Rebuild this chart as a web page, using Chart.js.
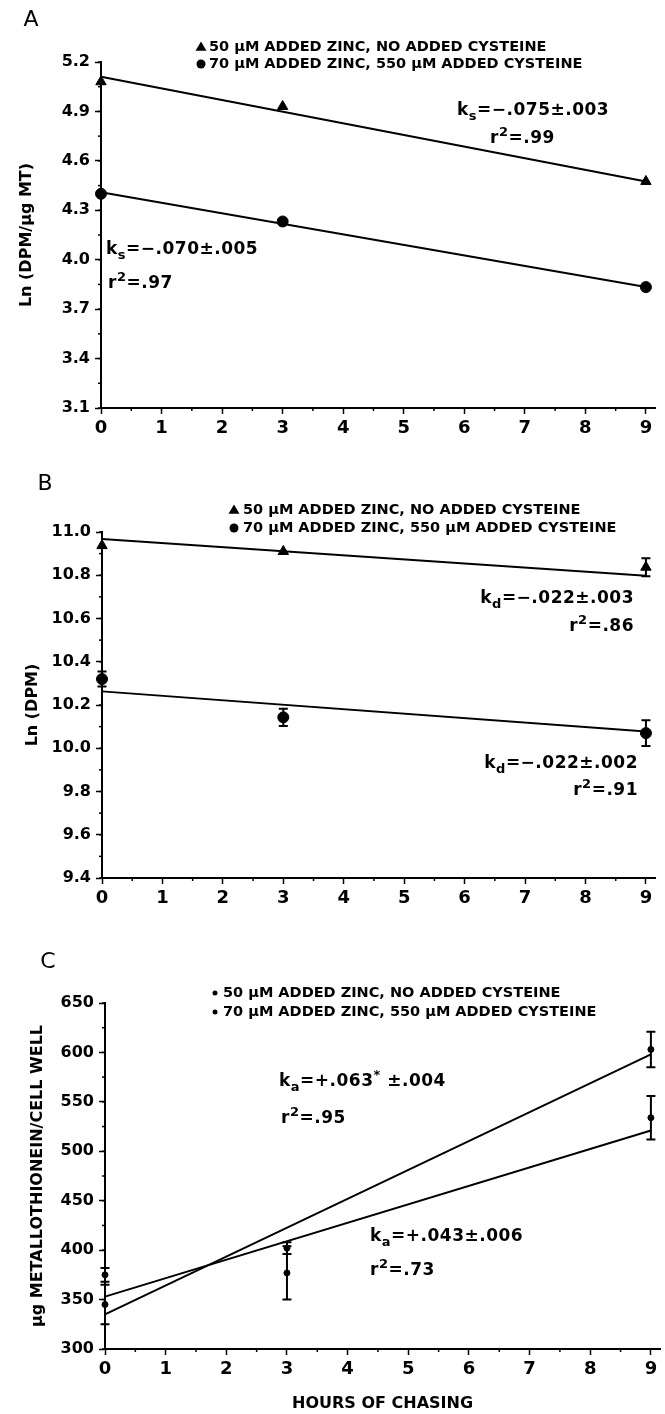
<!DOCTYPE html>
<html><head><meta charset="utf-8">
<script src="https://cdn.jsdelivr.net/npm/chart.js@4"></script>
<style>
html,body{margin:0;padding:0;background:#fff;width:665px;height:1414px;overflow:hidden;}
.p{position:absolute;left:0;}
canvas{display:block;}
</style></head><body>
<div class="p" style="top:0"><canvas id="cA" width="665" height="470"></canvas></div>
<div class="p" style="top:470px"><canvas id="cB" width="665" height="470"></canvas></div>
<div class="p" style="top:940px"><canvas id="cC" width="665" height="474"></canvas></div>
<script>
// ---------- DATA ----------
const hours = [0, 3, 9];
const fitHours = [0, 9];
const xTicks = [0, 1, 2, 3, 4, 5, 6, 7, 8, 9];
const legendLabels = ['50 μM ADDED ZINC, NO ADDED CYSTEINE', '70 μM ADDED ZINC, 550 μM ADDED CYSTEINE'];

// Panel A: Ln (DPM/μg MT)
const aZincOnly = [5.08, 4.93, 4.475];
const aZincCys = [4.40, 4.232, 3.834];
const aFitZincOnly = [5.11, 4.475];
const aFitZincCys = [4.41, 3.834];
const aYTicks = [3.1, 3.4, 3.7, 4.0, 4.3, 4.6, 4.9, 5.2];

// Panel B: Ln (DPM)
const bZincOnly = [10.937, 10.91, 10.837];
const bZincOnlyErr = [0, 0, 0.042];
const bZincCys = [10.32, 10.143, 10.07];
const bZincCysErr = [0.035, 0.04, 0.06];
const bFitZincOnly = [10.968, 10.798];
const bFitZincCys = [10.263, 10.078];
const bYTicks = [9.4, 9.6, 9.8, 10.0, 10.2, 10.4, 10.6, 10.8, 11.0];

// Panel C: μg metallothionein / cell well
const cZincOnly = [345, 402, 603];
const cZincOnlyErr = [20, 6, 18];
const cZincCys = [375, 377, 534];
const cZincCysErr = [7, 27, 22];
const cFitZincOnly = [335, 598];
const cFitZincCys = [353, 521];
const cYTicks = [300, 350, 400, 450, 500, 550, 600, 650];

// rate constant labels
const aRateTexts = [['k', 's', '=−.075±.003'], ['r', '2', '=.99'], ['k', 's', '=−.070±.005'], ['r', '2', '=.97']];
const bRateTexts = [['k', 'd', '=−.022±.003'], ['r', '2', '=.86'], ['k', 'd', '=−.022±.002'], ['r', '2', '=.91']];
const cRateTexts = [['k', 'a', '=+.063', '*', ' ±.004'], ['r', '2', '=.95'], ['k', 'a', '=+.043±.006'], ['r', '2', '=.73']];

// ---------- RENDERING ----------
const FONT = "'DejaVu Sans', sans-serif";
Chart.defaults.font.family = FONT;
Chart.defaults.color = '#000';
Chart.defaults.devicePixelRatio = 1;

function pts(xs, ys) { return xs.map((x, i) => ({ x: x, y: ys[i] })); }

function richParts(t, kinds) {
  return t.map((s, i) => ({ t: s, k: kinds[i] || 'n' }));
}

function drawRich(ctx, item, size) {
  const segs = item.parts.map(p => {
    const fs = p.k === 'n' ? size : Math.round(size * 0.76);
    ctx.font = 'bold ' + fs + 'px ' + FONT;
    return { t: p.t, k: p.k, fs: fs, w: ctx.measureText(p.t).width };
  });
  const total = segs.reduce((a, s) => a + s.w, 0);
  let x = item.align === 'right' ? item.x - total : item.x;
  ctx.textAlign = 'left';
  ctx.textBaseline = 'middle';
  segs.forEach(s => {
    ctx.font = 'bold ' + s.fs + 'px ' + FONT;
    const dy = s.k === 'sub' ? size * 0.36 : (s.k === 'sup' ? -size * 0.4 : 0);
    ctx.fillText(s.t, x, item.y + dy);
    x += s.w;
  });
}

const decorPlugin = {
  id: 'decor',
  afterDatasetsDraw(chart) {
    const o = chart.options.plugins.decor;
    const ctx = chart.ctx;
    const xs = chart.scales.x, ys = chart.scales.y;
    ctx.save();
    ctx.fillStyle = '#000';
    ctx.strokeStyle = '#000';
    // minor ticks
    ctx.lineWidth = 1.5;
    const ym = o.minorY;
    for (let v = ys.min; v <= ys.max + 1e-9; v += ym) {
      const py = ys.getPixelForValue(v);
      ctx.beginPath(); ctx.moveTo(xs.left - 3, py); ctx.lineTo(xs.left, py); ctx.stroke();
    }
    for (let v = 0.5; v <= xs.max; v += 1) {
      const px = xs.getPixelForValue(v);
      ctx.beginPath(); ctx.moveTo(px, ys.bottom); ctx.lineTo(px, ys.bottom + 3); ctx.stroke();
    }
    // error bars
    ctx.lineWidth = 2;
    chart.data.datasets.forEach(ds => {
      if (!ds.errorBars) return;
      ds.data.forEach((p, i) => {
        const e = ds.errorBars[i];
        if (!e) return;
        const px = xs.getPixelForValue(p.x);
        const y1 = ys.getPixelForValue(p.y + e), y2 = ys.getPixelForValue(p.y - e);
        ctx.beginPath();
        ctx.moveTo(px, y1); ctx.lineTo(px, y2);
        ctx.moveTo(px - 4.5, y1); ctx.lineTo(px + 4.5, y1);
        ctx.moveTo(px - 4.5, y2); ctx.lineTo(px + 4.5, y2);
        ctx.stroke();
      });
    });
    // panel letter
    ctx.font = '22px ' + FONT;
    ctx.textAlign = 'center';
    ctx.textBaseline = 'middle';
    ctx.fillText(o.letter.t, o.letter.x, o.letter.y);
    // legend
    const lg = o.legend;
    const markerDs = chart.data.datasets.filter(d => d.inLegend);
    markerDs.forEach((ds, i) => {
      const y = lg.y[i];
      ctx.beginPath();
      if (ds.pointStyle === 'triangle') {
        const r = lg.r + 1;
        ctx.moveTo(lg.markerX, y - r);
        ctx.lineTo(lg.markerX + r, y + r * 0.7);
        ctx.lineTo(lg.markerX - r, y + r * 0.7);
        ctx.closePath();
      } else {
        ctx.arc(lg.markerX, y, lg.r, 0, Math.PI * 2);
      }
      ctx.fill();
      ctx.font = 'bold ' + lg.size + 'px ' + FONT;
      ctx.textAlign = 'left';
      ctx.textBaseline = 'middle';
      ctx.fillText(ds.label, lg.textX, y);
    });
    // annotations
    if ('letterSpacing' in ctx) ctx.letterSpacing = '0.5px';
    o.notes.forEach(n => drawRich(ctx, n, 17));
    ctx.restore();
  }
};

function makePanel(id, cfg) {
  const ctx = document.getElementById(id);
  const datasets = [
    { label: legendLabels[0], inLegend: true, data: pts(hours, cfg.s1), pointStyle: cfg.style1, pointRadius: cfg.r1,
      backgroundColor: '#000', borderColor: '#000', showLine: false, clip: false, errorBars: cfg.e1, order: 1 },
    { label: legendLabels[1], inLegend: true, data: pts(hours, cfg.s2), pointStyle: 'circle', pointRadius: cfg.r2,
      backgroundColor: '#000', borderColor: '#000', showLine: false, clip: false, errorBars: cfg.e2, order: 1 },
    { label: 'fit1', data: pts(fitHours, cfg.f1), showLine: true, pointRadius: 0, borderColor: '#000', borderWidth: 2, clip: false, order: 2 },
    { label: 'fit2', data: pts(fitHours, cfg.f2), showLine: true, pointRadius: 0, borderColor: '#000', borderWidth: 2, clip: false, order: 2 }
  ];
  return new Chart(ctx, {
    type: 'scatter',
    data: { datasets: datasets },
    plugins: [decorPlugin],
    options: {
      responsive: false,
      animation: false,
      devicePixelRatio: 1,
      layout: { padding: { top: cfg.top, right: cfg.right, bottom: 0, left: 0 } },
      plugins: {
        legend: { display: false },
        tooltip: { enabled: false },
        decor: { minorY: cfg.minorY, letter: cfg.letter, legend: cfg.legend, notes: cfg.notes }
      },
      scales: {
        x: {
          type: 'linear', min: 0, max: 9.15,
          afterBuildTicks: s => { s.ticks = xTicks.map(v => ({ value: v })); },
          afterFit: s => { s.height = cfg.xH; },
          ticks: { font: { size: 18, weight: 'bold' }, padding: 4, color: '#000', maxRotation: 0, includeBounds: false },
          grid: { display: true, drawOnChartArea: false, drawTicks: true, tickLength: 6, tickColor: '#000', tickWidth: 1.5 },
          border: { display: true, color: '#000', width: 2 },
          title: cfg.xTitle ? { display: true, text: cfg.xTitle, font: { size: 16, weight: 'bold' }, color: '#000', padding: { top: 0, bottom: 1 } } : { display: false }
        },
        y: {
          type: 'linear', min: cfg.yTicks[0], max: cfg.yTicks[cfg.yTicks.length - 1],
          afterBuildTicks: s => { s.ticks = cfg.yTicks.map(v => ({ value: v })); },
          afterFit: s => { s.width = cfg.left; },
          ticks: { font: { size: 16, weight: 'bold' }, padding: 5, color: '#000', callback: v => cfg.fmt(v) },
          grid: { display: true, drawOnChartArea: false, drawTicks: true, tickLength: 6, tickColor: '#000', tickWidth: 1.5 },
          border: { display: true, color: '#000', width: 2 },
          title: { display: true, text: cfg.yTitle, font: { size: 16, weight: 'bold' }, color: '#000', padding: { top: cfg.yTitlePad, bottom: 0 } }
        }
      }
    }
  });
}

function rate(arr, kinds, x, y, align) { return { parts: richParts(arr, kinds), x: x, y: y, align: align }; }

makePanel('cA', {
  s1: aZincOnly, s2: aZincCys, f1: aFitZincOnly, f2: aFitZincCys, style1: 'triangle', r1: 6, r2: 5.5,
  yTicks: aYTicks, fmt: v => v.toFixed(1), minorY: 0.15,
  top: 62, right: 10, left: 101, xH: 62,
  yTitle: 'Ln (DPM/μg MT)', yTitlePad: 17,
  letter: { t: 'A', x: 31, y: 20 },
  legend: { markerX: 201, textX: 209, y: [47, 64], r: 4.5, size: 14.5 },
  notes: [
    rate(aRateTexts[0], ['n', 'sub', 'n'], 457, 111, 'left'),
    rate(aRateTexts[1], ['n', 'sup', 'n'], 490, 139, 'left'),
    rate(aRateTexts[2], ['n', 'sub', 'n'], 106, 250, 'left'),
    rate(aRateTexts[3], ['n', 'sup', 'n'], 108, 284, 'left')
  ]
});

makePanel('cB', {
  s1: bZincOnly, s2: bZincCys, e1: bZincOnlyErr, e2: bZincCysErr, f1: bFitZincOnly, f2: bFitZincCys, style1: 'triangle', r1: 6, r2: 5.5,
  yTicks: bYTicks, fmt: v => v.toFixed(1), minorY: 0.1,
  top: 62, right: 10, left: 102, xH: 62,
  yTitle: 'Ln (DPM)', yTitlePad: 23,
  letter: { t: 'B', x: 45, y: 14 },
  legend: { markerX: 234, textX: 243, y: [40, 58], r: 4.5, size: 14.5 },
  notes: [
    rate(bRateTexts[0], ['n', 'sub', 'n'], 634, 129, 'right'),
    rate(bRateTexts[1], ['n', 'sup', 'n'], 634, 157, 'right'),
    rate(bRateTexts[2], ['n', 'sub', 'n'], 638, 294, 'right'),
    rate(bRateTexts[3], ['n', 'sup', 'n'], 638, 321, 'right')
  ]
});

makePanel('cC', {
  s1: cZincOnly, s2: cZincCys, e1: cZincOnlyErr, e2: cZincCysErr, f1: cFitZincOnly, f2: cFitZincCys, style1: 'circle', r1: 3, r2: 3,
  yTicks: cYTicks, fmt: v => String(v), minorY: 25,
  top: 63, right: 5, left: 105, xH: 65,
  xTitle: 'HOURS OF CHASING',
  yTitle: 'μg METALLOTHIONEIN/CELL WELL', yTitlePad: 28,
  letter: { t: 'C', x: 48, y: 22 },
  legend: { markerX: 215, textX: 223, y: [53, 72], r: 2.5, size: 14.5 },
  notes: [
    rate(cRateTexts[0], ['n', 'sub', 'n', 'sup', 'n'], 279, 142, 'left'),
    rate(cRateTexts[1], ['n', 'sup', 'n'], 281, 179, 'left'),
    rate(cRateTexts[2], ['n', 'sub', 'n'], 370, 297, 'left'),
    rate(cRateTexts[3], ['n', 'sup', 'n'], 370, 331, 'left')
  ]
});
</script>
</body></html>
